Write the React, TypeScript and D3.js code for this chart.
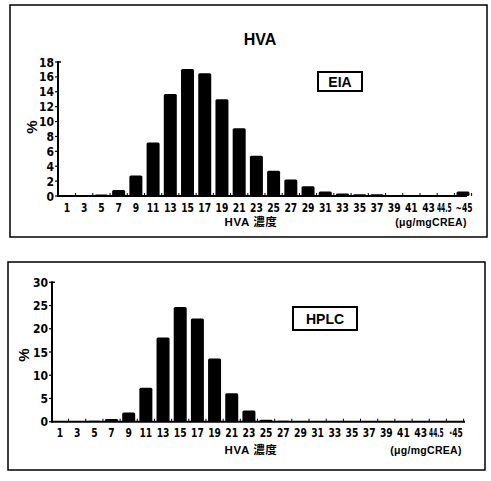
import React from 'react';
import * as d3 from 'd3';

// HVA concentration classes (µg/mgCREA)
const eiaLabels = ['1', '3', '5', '7', '9', '11', '13', '15', '17', '19', '21', '23', '25', '27', '29', '31', '33', '35', '37', '39', '41', '43', '44.5', '~45'];
const hplcLabels = ['1', '3', '5', '7', '9', '11', '13', '15', '17', '19', '21', '23', '25', '27', '29', '31', '33', '35', '37', '39', '41', '43', '44.5', '·45'];

// percent of samples per class
const eiaValues = [0, 0.05, 0.2, 0.8, 2.75, 7.2, 13.7, 17.05, 16.5, 13.0, 9.1, 5.4, 3.4, 2.2, 1.3, 0.6, 0.35, 0.25, 0.25, 0.15, 0.15, 0.15, 0, 0.6];
const hplcValues = [0, 0.15, 0.2, 0.6, 2.0, 7.3, 18.1, 24.7, 22.2, 13.6, 6.1, 2.4, 0.4, 0.2, 0.15, 0, 0, 0, 0, 0, 0, 0, 0, 0];

const eiaTicks = [0, 2, 4, 6, 8, 10, 12, 14, 16, 18];
const hplcTicks = [0, 5, 10, 15, 20, 25, 30];

const NUM_FONT = "'DejaVu Sans Condensed', 'Liberation Sans', sans-serif";
const TXT_FONT = "'Liberation Sans', 'Noto Sans CJK JP', sans-serif";

interface PanelProps {
  labels: string[];
  values: number[];
  ticks: number[];
  frame: { x0: number; y0: number; x1: number; y1: number };
  axisX: [number, number];
  xRange: [number, number];
  yRange: [number, number];
  tickLabelX: number;
  xLabelY: number;
  unitX: number;
  pctPos: [number, number];
  legend: { text: string; x: number; y: number; w: number; h: number };
  title?: string;
}

const Panel: React.FC<PanelProps> = ({ labels, values, ticks, frame, axisX, xRange, yRange, tickLabelX, xLabelY, unitX, pctPos, legend, title }) => {
  const x = d3.scalePoint<string>().domain(labels).range(xRange);
  const y = d3.scaleLinear().domain([0, ticks[ticks.length - 1]]).range(yRange);
  const step = x.step();
  const barW = 13;
  const base = y(0);
  const top = y(ticks[ticks.length - 1]);

  return (
    <g>
      <rect x={frame.x0} y={frame.y0} width={frame.x1 - frame.x0} height={frame.y1 - frame.y0} fill="none" stroke="#000" strokeWidth={1.5} />
      {title && (
        <text x={260} y={frame.y0 + 40} textAnchor="middle" fontFamily={TXT_FONT} fontWeight="bold" fontSize={16}>{title}</text>
      )}
      {/* bars */}
      {values.map((v, i) => (
        <rect key={i} x={(x(labels[i]) as number) - barW / 2} y={y(v)} width={barW} height={Math.max(0, base - y(v))} fill="#000" rx={1.5} />
      ))}
      {/* y axis */}
      <line x1={axisX[0]} x2={axisX[0]} y1={top - 1} y2={base + 1} stroke="#000" strokeWidth={2} />
      <line x1={axisX[0]} x2={axisX[0] + 3} y1={top} y2={top} stroke="#000" strokeWidth={1.5} />
      {ticks.map(t => (
        <g key={t}>
          <line x1={axisX[0] - 3} x2={axisX[0]} y1={y(t)} y2={y(t)} stroke="#000" strokeWidth={1.2} />
          <text x={tickLabelX} y={y(t) + 4.5} textAnchor="end" fontFamily={NUM_FONT} fontWeight="bold" fontSize={12}>{t}</text>
        </g>
      ))}
      {/* x axis */}
      <line x1={axisX[0]} x2={axisX[1]} y1={base} y2={base} stroke="#000" strokeWidth={2} />
      {labels.map((l, i) => (
        <line key={'t' + i} x1={(x(l) as number) + step / 2} x2={(x(l) as number) + step / 2} y1={base} y2={base - 3} stroke="#000" strokeWidth={1} />
      ))}
      {labels.map((l, i) => {
        const sx = l.length > 3 ? 0.55 : l.length > 2 ? 0.7 : 0.85;
        const dx = i === labels.length - 2 ? -1.5 : i === labels.length - 1 ? 1 : 0;
        return (
          <text key={l} transform={`translate(${(x(l) as number) + dx},${base + 15.5}) scale(${sx},1)`} textAnchor="middle"
            fontFamily={NUM_FONT} fontWeight="bold" fontSize={12}>{l}</text>
        );
      })}
      <text x={pctPos[0]} y={pctPos[1]} transform={`rotate(-90 ${pctPos[0]} ${pctPos[1]})`} textAnchor="middle" fontFamily={TXT_FONT} fontWeight="bold" fontSize={15}>%</text>
      {/* axis titles */}
      <text x={251} y={xLabelY} textAnchor="middle" fontFamily={TXT_FONT} fontWeight="bold" fontSize={11.5} letterSpacing={0.6}>HVA 濃度</text>
      <text x={unitX} y={xLabelY} textAnchor="middle" fontFamily={TXT_FONT} fontSize={10.5} fontWeight="bold" letterSpacing={0.3}>(μg/mgCREA)</text>
      {/* legend box */}
      <rect x={legend.x} y={legend.y} width={legend.w} height={legend.h} fill="#fff" stroke="#000" strokeWidth={2} />
      <text x={legend.x + legend.w / 2} y={legend.y + legend.h / 2 + 5} textAnchor="middle" fontFamily={TXT_FONT} fontWeight="bold" fontSize={14}>{legend.text}</text>
    </g>
  );
};

export default function App() {
  return (
    <svg width={491} height={481} style={{ position: 'absolute', left: 0, top: 0, background: '#fff' }}>
      <rect width={491} height={481} fill="#fff" />
      <Panel
        title="HVA"
        labels={eiaLabels}
        values={eiaValues}
        ticks={eiaTicks}
        frame={{ x0: 10, y0: 5, x1: 487, y1: 237 }}
        axisX={[58, 467]}
        xRange={[67, 463]}
        yRange={[196, 62]}
        tickLabelX={54}
        xLabelY={226}
        unitX={431}
        pctPos={[37, 127]}
        legend={{ text: 'EIA', x: 318, y: 72, w: 44, h: 19 }}
      />
      <Panel
        labels={hplcLabels}
        values={hplcValues}
        ticks={hplcTicks}
        frame={{ x0: 8, y0: 262, x1: 485, y1: 470 }}
        axisX={[52, 465]}
        xRange={[60, 455]}
        yRange={[421.7, 282.3]}
        tickLabelX={48}
        xLabelY={454}
        unitX={426}
        pctPos={[29, 355]}
        legend={{ text: 'HPLC', x: 293, y: 307, w: 64, h: 23 }}
      />
    </svg>
  );
}
